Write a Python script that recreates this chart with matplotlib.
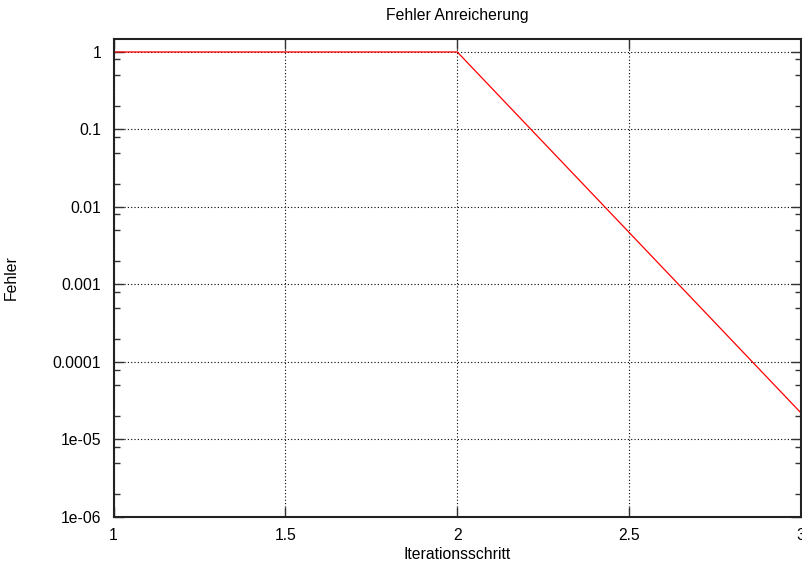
import matplotlib
matplotlib.use("Agg")
import matplotlib.pyplot as plt
from matplotlib.ticker import LogLocator, FixedLocator, NullFormatter

plt.rcParams["font.family"] = ["Liberation Sans", "DejaVu Sans"]

# error per iteration step
steps = [1, 2, 3]
errors = [1.0, 1.0, 2.2e-5]

x_ticks = [1, 1.5, 2, 2.5, 3]
x_labels = ["1", "1.5", "2", "2.5", "3"]
y_ticks = [1e-6, 1e-5, 1e-4, 1e-3, 1e-2, 1e-1, 1]
y_labels = ["1e-06", "1e-05", "0.0001", "0.001", "0.01", "0.1", "1"]

FS = 11.3

fig = plt.figure(figsize=(8.02, 5.65), dpi=100)
ax = fig.add_axes([113.5 / 802, 48 / 565, (801 - 113.5) / 802, (517 - 39) / 565])

ax.plot(steps, errors, color="red", lw=0.9)

ax.set_yscale("log")
ax.set_xlim(1, 3)
ax.set_ylim(1e-6, 1.47)

ax.xaxis.set_major_locator(FixedLocator(x_ticks))
ax.set_xticklabels(x_labels)
ax.yaxis.set_major_locator(FixedLocator(y_ticks))
ax.set_yticklabels(y_labels)
ax.yaxis.set_minor_locator(LogLocator(base=10, subs=[2, 5, 8]))
ax.yaxis.set_minor_formatter(NullFormatter())

ax.tick_params(which="both", direction="in", top=True, right=True,
               labelsize=FS, color="#333333")
ax.tick_params(which="major", length=7, width=1)
ax.tick_params(which="minor", length=4, width=1)
ax.tick_params(axis="y", which="major", pad=9)
ax.tick_params(axis="x", which="major", pad=8)

for s in ax.spines.values():
    s.set_linewidth(1.5)
    s.set_color("#222222")

ax.grid(True, which="major", linestyle=(0, (1, 2)), color="black", lw=0.8)

ax.set_title("Fehler Anreicherung", fontsize=FS, pad=14)
ax.set_xlabel("Iterationsschritt", fontsize=FS, labelpad=3)
ax.set_ylabel("Fehler", fontsize=FS, labelpad=24)

fig.savefig("out.png", dpi=100)
